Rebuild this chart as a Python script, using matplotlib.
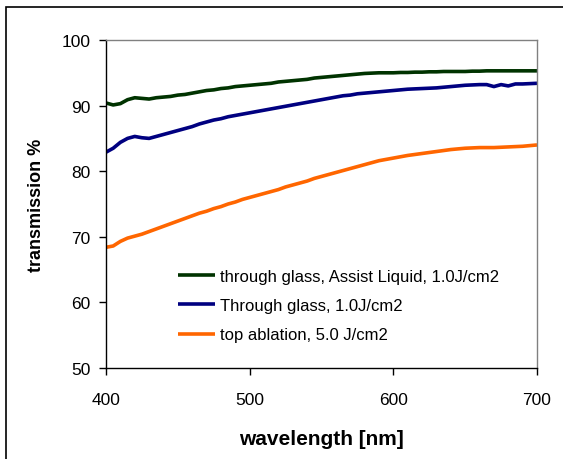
import numpy as np
import matplotlib
matplotlib.use("Agg")
import matplotlib.pyplot as plt
from matplotlib.patches import Rectangle

plt.rcParams["font.family"] = ["Liberation Sans", "DejaVu Sans"]

# wavelength grid (nm), read every 5 nm
wavelength = list(range(400, 701, 5))

assist_liquid = [90.4, 90.1, 90.3, 90.9, 91.2, 91.1, 91.0, 91.2, 91.3, 91.4, 91.6, 91.7, 91.9, 92.1, 92.3,
                 92.4, 92.6, 92.7, 92.9, 93.0, 93.1, 93.2, 93.3, 93.4, 93.6, 93.7, 93.8, 93.9, 94.0, 94.2,
                 94.3, 94.4, 94.5, 94.6, 94.7, 94.8, 94.9, 94.95, 95.0, 95.0, 95.0, 95.05, 95.05, 95.1, 95.1,
                 95.15, 95.15, 95.2, 95.2, 95.2, 95.2, 95.25, 95.25, 95.3, 95.3, 95.3, 95.3, 95.3, 95.3, 95.3, 95.3]

through_glass = [82.9, 83.5, 84.4, 85.0, 85.3, 85.1, 85.0, 85.3, 85.6, 85.9, 86.2, 86.5, 86.8, 87.2, 87.5,
                 87.8, 88.0, 88.3, 88.5, 88.7, 88.9, 89.1, 89.3, 89.5, 89.7, 89.9, 90.1, 90.3, 90.5, 90.7,
                 90.9, 91.1, 91.3, 91.5, 91.6, 91.8, 91.9, 92.0, 92.1, 92.2, 92.3, 92.4, 92.5, 92.55, 92.6,
                 92.65, 92.7, 92.8, 92.9, 93.0, 93.1, 93.15, 93.2, 93.2, 92.9, 93.2, 93.0, 93.3, 93.3, 93.35, 93.4]

top_ablation = [68.4, 68.6, 69.3, 69.8, 70.1, 70.4, 70.8, 71.2, 71.6, 72.0, 72.4, 72.8, 73.2, 73.6, 73.9,
                74.3, 74.6, 75.0, 75.3, 75.7, 76.0, 76.3, 76.6, 76.9, 77.2, 77.6, 77.9, 78.2, 78.5, 78.9,
                79.2, 79.5, 79.8, 80.1, 80.4, 80.7, 81.0, 81.3, 81.6, 81.8, 82.0, 82.2, 82.4, 82.55, 82.7,
                82.85, 83.0, 83.15, 83.3, 83.4, 83.5, 83.55, 83.6, 83.6, 83.6, 83.65, 83.7, 83.75, 83.8, 83.9, 84.0]

labels = ["through glass, Assist Liquid, 1.0J/cm2",
          "Through glass, 1.0J/cm2",
          "top ablation, 5.0 J/cm2"]
colors = ["#003300", "#000080", "#FF6600"]

fig = plt.figure(figsize=(5.63, 4.60), dpi=100)
ax = fig.add_axes([106 / 563, 1 - 369 / 460, 431 / 563, 328 / 460])

for ys, lab, c in zip([assist_liquid, through_glass, top_ablation], labels, colors):
    ax.plot(wavelength, ys, color=c, lw=2.6, label=lab, solid_capstyle="butt")

ax.set_xlim(400, 700)
ax.set_ylim(50, 100)
ax.set_xticks([400, 500, 600, 700])
ax.set_yticks([50, 60, 70, 80, 90, 100])
ax.tick_params(direction="out", length=5, width=1, labelsize=12.5, color="black")
ax.tick_params(axis="y", pad=6)
ax.tick_params(axis="x", pad=12)

for s in ["left", "bottom"]:
    ax.spines[s].set_color("black")
for s in ["top", "right"]:
    ax.spines[s].set_color("#808080")
for s in ax.spines.values():
    s.set_linewidth(1)

ax.set_xlabel("wavelength [nm]", fontsize=15, fontweight="bold", labelpad=16)
ax.set_ylabel("transmission %", fontsize=13, fontweight="bold", labelpad=12)

leg = ax.legend(loc="upper left", bbox_to_anchor=(178 / 563, 1 - 270 / 460), bbox_transform=fig.transFigure,
                frameon=False, fontsize=12, handlelength=2.2, handletextpad=0.3, labelspacing=0.85,
                borderpad=0, borderaxespad=0)

# outer chart border (only top/left edges are inside the picture)
fig.patches.append(Rectangle((6 / 563, -0.1), 1.2, (460 - 8) / 460 + 0.1, transform=fig.transFigure,
                             fill=False, edgecolor="black", lw=1.2))

fig.savefig("out.png", dpi=100)
